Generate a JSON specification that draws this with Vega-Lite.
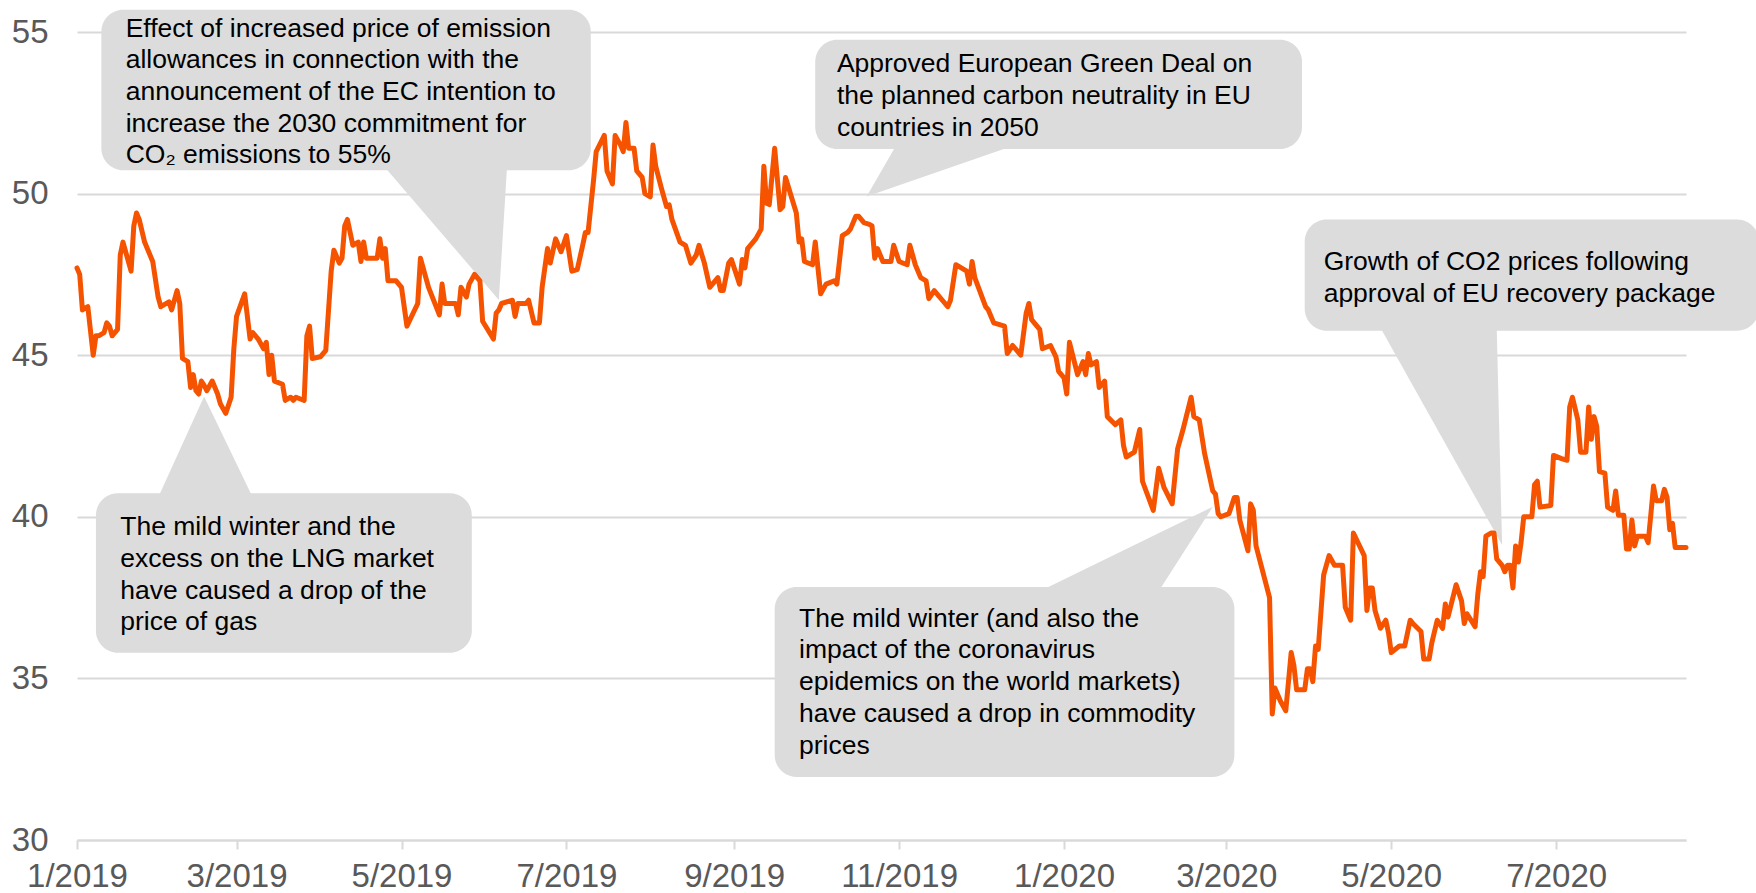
{
  "$schema": "https://vega.github.io/schema/vega-lite/v6.json",
  "autosize": {"type": "none"},
  "padding": {"left": 77, "top": 32, "right": 70, "bottom": 53},
  "width": 1609,
  "height": 808,
  "background": "white",
  "config": {"view": {"stroke": null}, "font": "Liberation Sans"},
  "datasets": {
    "prices": [
      {"d":"2019-01-01","v":47.7},{"d":"2019-01-02","v":47.5},{"d":"2019-01-03","v":46.4},{"d":"2019-01-05","v":46.5},{"d":"2019-01-07","v":45.0},{"d":"2019-01-08","v":45.6},{"d":"2019-01-09","v":45.6},{"d":"2019-01-11","v":45.7},{"d":"2019-01-12","v":46.0},{"d":"2019-01-13","v":45.9},{"d":"2019-01-14","v":45.6},{"d":"2019-01-16","v":45.8},{"d":"2019-01-17","v":48.1},{"d":"2019-01-18","v":48.5},{"d":"2019-01-21","v":47.6},{"d":"2019-01-22","v":49.0},{"d":"2019-01-23","v":49.4},{"d":"2019-01-24","v":49.2},{"d":"2019-01-26","v":48.5},{"d":"2019-01-29","v":47.9},{"d":"2019-01-31","v":46.8},
      {"d":"2019-02-01","v":46.5},{"d":"2019-02-04","v":46.65},{"d":"2019-02-05","v":46.4},{"d":"2019-02-07","v":47.0},{"d":"2019-02-08","v":46.6},{"d":"2019-02-09","v":44.9},{"d":"2019-02-11","v":44.8},{"d":"2019-02-12","v":44.0},{"d":"2019-02-13","v":44.4},{"d":"2019-02-14","v":43.9},{"d":"2019-02-15","v":43.8},{"d":"2019-02-16","v":44.2},{"d":"2019-02-17","v":44.07},{"d":"2019-02-18","v":43.9},{"d":"2019-02-20","v":44.2},{"d":"2019-02-22","v":43.8},{"d":"2019-02-23","v":43.5},{"d":"2019-02-25","v":43.2},{"d":"2019-02-27","v":43.7},{"d":"2019-02-28","v":45.2},
      {"d":"2019-03-01","v":46.2},{"d":"2019-03-04","v":46.9},{"d":"2019-03-06","v":45.5},{"d":"2019-03-07","v":45.7},{"d":"2019-03-09","v":45.5},{"d":"2019-03-11","v":45.2},{"d":"2019-03-12","v":45.4},{"d":"2019-03-13","v":44.4},{"d":"2019-03-14","v":45.0},{"d":"2019-03-15","v":44.2},{"d":"2019-03-18","v":44.1},{"d":"2019-03-19","v":43.6},{"d":"2019-03-21","v":43.7},{"d":"2019-03-22","v":43.6},{"d":"2019-03-23","v":43.7},{"d":"2019-03-26","v":43.6},{"d":"2019-03-27","v":45.6},{"d":"2019-03-28","v":45.9},{"d":"2019-03-29","v":44.9},
      {"d":"2019-04-01","v":44.95},{"d":"2019-04-03","v":45.15},{"d":"2019-04-05","v":47.6},{"d":"2019-04-06","v":48.25},{"d":"2019-04-08","v":47.85},{"d":"2019-04-09","v":48.0},{"d":"2019-04-10","v":49.0},{"d":"2019-04-11","v":49.2},{"d":"2019-04-13","v":48.4},{"d":"2019-04-15","v":48.5},{"d":"2019-04-16","v":47.9},{"d":"2019-04-17","v":48.5},{"d":"2019-04-18","v":48.0},{"d":"2019-04-22","v":48.0},{"d":"2019-04-23","v":48.6},{"d":"2019-04-24","v":48.0},{"d":"2019-04-25","v":48.3},{"d":"2019-04-26","v":47.3},{"d":"2019-04-29","v":47.3},
      {"d":"2019-05-01","v":47.1},{"d":"2019-05-03","v":45.9},{"d":"2019-05-07","v":46.6},{"d":"2019-05-08","v":48.0},{"d":"2019-05-11","v":47.1},{"d":"2019-05-15","v":46.25},{"d":"2019-05-16","v":47.2},{"d":"2019-05-17","v":46.6},{"d":"2019-05-21","v":46.6},{"d":"2019-05-22","v":46.25},{"d":"2019-05-23","v":47.1},{"d":"2019-05-25","v":46.8},{"d":"2019-05-26","v":47.2},{"d":"2019-05-28","v":47.5},{"d":"2019-05-30","v":47.3},{"d":"2019-05-31","v":46.05},
      {"d":"2019-06-04","v":45.5},{"d":"2019-06-05","v":46.3},{"d":"2019-06-06","v":46.4},{"d":"2019-06-07","v":46.6},{"d":"2019-06-11","v":46.7},{"d":"2019-06-12","v":46.2},{"d":"2019-06-13","v":46.6},{"d":"2019-06-16","v":46.6},{"d":"2019-06-17","v":46.7},{"d":"2019-06-19","v":46.0},{"d":"2019-06-21","v":46.0},{"d":"2019-06-22","v":47.1},{"d":"2019-06-24","v":48.3},{"d":"2019-06-25","v":47.85},{"d":"2019-06-27","v":48.6},{"d":"2019-06-29","v":48.2},
      {"d":"2019-07-01","v":48.7},{"d":"2019-07-03","v":47.6},{"d":"2019-07-05","v":47.65},{"d":"2019-07-07","v":48.4},{"d":"2019-07-08","v":48.8},{"d":"2019-07-09","v":48.8},{"d":"2019-07-11","v":50.4},{"d":"2019-07-12","v":51.3},{"d":"2019-07-15","v":51.8},{"d":"2019-07-16","v":50.7},{"d":"2019-07-18","v":50.3},{"d":"2019-07-19","v":51.8},{"d":"2019-07-21","v":51.5},{"d":"2019-07-22","v":51.3},{"d":"2019-07-23","v":52.2},{"d":"2019-07-24","v":51.4},{"d":"2019-07-26","v":51.4},{"d":"2019-07-27","v":50.7},{"d":"2019-07-29","v":50.5},{"d":"2019-07-30","v":50.0},
      {"d":"2019-08-01","v":49.9},{"d":"2019-08-02","v":51.5},{"d":"2019-08-03","v":50.85},{"d":"2019-08-05","v":50.2},{"d":"2019-08-07","v":49.6},{"d":"2019-08-08","v":49.65},{"d":"2019-08-09","v":49.2},{"d":"2019-08-12","v":48.5},{"d":"2019-08-14","v":48.4},{"d":"2019-08-16","v":47.85},{"d":"2019-08-18","v":48.1},{"d":"2019-08-19","v":48.4},{"d":"2019-08-21","v":47.85},{"d":"2019-08-23","v":47.1},{"d":"2019-08-26","v":47.4},{"d":"2019-08-27","v":47.0},{"d":"2019-08-28","v":47.0},{"d":"2019-08-30","v":47.85},{"d":"2019-08-31","v":47.96},
      {"d":"2019-09-03","v":47.2},{"d":"2019-09-04","v":47.96},{"d":"2019-09-05","v":47.7},{"d":"2019-09-06","v":48.3},{"d":"2019-09-09","v":48.6},{"d":"2019-09-11","v":48.9},{"d":"2019-09-12","v":50.85},{"d":"2019-09-13","v":49.7},{"d":"2019-09-14","v":49.66},{"d":"2019-09-16","v":51.4},{"d":"2019-09-18","v":49.5},{"d":"2019-09-19","v":49.6},{"d":"2019-09-20","v":50.5},{"d":"2019-09-24","v":49.4},{"d":"2019-09-25","v":48.5},{"d":"2019-09-26","v":48.6},{"d":"2019-09-27","v":47.9},{"d":"2019-09-30","v":47.8},
      {"d":"2019-10-01","v":48.5},{"d":"2019-10-03","v":46.9},{"d":"2019-10-05","v":47.2},{"d":"2019-10-08","v":47.3},{"d":"2019-10-09","v":47.2},{"d":"2019-10-11","v":48.7},{"d":"2019-10-13","v":48.8},{"d":"2019-10-14","v":48.9},{"d":"2019-10-16","v":49.3},{"d":"2019-10-17","v":49.3},{"d":"2019-10-19","v":49.1},{"d":"2019-10-21","v":49.05},{"d":"2019-10-22","v":49.0},{"d":"2019-10-23","v":48.0},{"d":"2019-10-24","v":48.3},{"d":"2019-10-26","v":47.9},{"d":"2019-10-29","v":47.9},{"d":"2019-10-30","v":48.4},
      {"d":"2019-11-01","v":47.9},{"d":"2019-11-04","v":47.8},{"d":"2019-11-05","v":48.4},{"d":"2019-11-07","v":47.8},{"d":"2019-11-09","v":47.4},{"d":"2019-11-11","v":47.3},{"d":"2019-11-12","v":46.75},{"d":"2019-11-14","v":47.0},{"d":"2019-11-17","v":46.7},{"d":"2019-11-19","v":46.5},{"d":"2019-11-20","v":46.7},{"d":"2019-11-22","v":47.8},{"d":"2019-11-26","v":47.6},{"d":"2019-11-27","v":47.2},{"d":"2019-11-28","v":47.9},{"d":"2019-11-29","v":47.4},
      {"d":"2019-12-03","v":46.5},{"d":"2019-12-04","v":46.4},{"d":"2019-12-06","v":46.0},{"d":"2019-12-10","v":45.9},{"d":"2019-12-11","v":45.05},{"d":"2019-12-13","v":45.3},{"d":"2019-12-16","v":45.0},{"d":"2019-12-18","v":46.3},{"d":"2019-12-19","v":46.6},{"d":"2019-12-20","v":46.1},{"d":"2019-12-23","v":45.8},{"d":"2019-12-24","v":45.2},{"d":"2019-12-27","v":45.3},{"d":"2019-12-29","v":44.95},{"d":"2019-12-30","v":44.5},
      {"d":"2020-01-01","v":44.3},{"d":"2020-01-02","v":43.8},{"d":"2020-01-03","v":45.4},{"d":"2020-01-06","v":44.4},{"d":"2020-01-08","v":44.8},{"d":"2020-01-09","v":44.4},{"d":"2020-01-10","v":45.05},{"d":"2020-01-11","v":44.7},{"d":"2020-01-13","v":44.8},{"d":"2020-01-14","v":44.0},{"d":"2020-01-16","v":44.2},{"d":"2020-01-17","v":43.1},{"d":"2020-01-20","v":42.85},{"d":"2020-01-22","v":43.0},{"d":"2020-01-23","v":42.2},{"d":"2020-01-24","v":41.85},{"d":"2020-01-27","v":42.0},{"d":"2020-01-29","v":42.7},{"d":"2020-01-30","v":41.1},
      {"d":"2020-02-03","v":40.2},{"d":"2020-02-05","v":41.5},{"d":"2020-02-07","v":40.9},{"d":"2020-02-10","v":40.4},{"d":"2020-02-12","v":42.1},{"d":"2020-02-14","v":42.7},{"d":"2020-02-17","v":43.7},{"d":"2020-02-18","v":43.1},{"d":"2020-02-20","v":43.0},{"d":"2020-02-22","v":41.95},{"d":"2020-02-25","v":40.8},{"d":"2020-02-26","v":40.7},{"d":"2020-02-27","v":40.1},{"d":"2020-02-28","v":40.0},
      {"d":"2020-03-02","v":40.1},{"d":"2020-03-04","v":40.6},{"d":"2020-03-05","v":40.6},{"d":"2020-03-06","v":39.9},{"d":"2020-03-09","v":38.95},{"d":"2020-03-10","v":40.4},{"d":"2020-03-11","v":40.2},{"d":"2020-03-12","v":39.1},{"d":"2020-03-17","v":37.5},{"d":"2020-03-18","v":33.9},{"d":"2020-03-19","v":34.7},{"d":"2020-03-21","v":34.3},{"d":"2020-03-23","v":34.0},{"d":"2020-03-25","v":35.8},{"d":"2020-03-26","v":35.4},{"d":"2020-03-27","v":34.65},{"d":"2020-03-30","v":34.65},{"d":"2020-03-31","v":35.3},
      {"d":"2020-04-01","v":35.3},{"d":"2020-04-02","v":34.9},{"d":"2020-04-03","v":36.0},{"d":"2020-04-04","v":35.9},{"d":"2020-04-06","v":38.2},{"d":"2020-04-08","v":38.8},{"d":"2020-04-10","v":38.5},{"d":"2020-04-13","v":38.5},{"d":"2020-04-14","v":37.2},{"d":"2020-04-16","v":36.8},{"d":"2020-04-17","v":39.5},{"d":"2020-04-21","v":38.8},{"d":"2020-04-22","v":37.1},{"d":"2020-04-23","v":37.8},{"d":"2020-04-24","v":37.8},{"d":"2020-04-25","v":37.1},{"d":"2020-04-27","v":36.55},{"d":"2020-04-29","v":36.8},{"d":"2020-04-30","v":36.4},
      {"d":"2020-05-01","v":35.8},{"d":"2020-05-04","v":36.0},{"d":"2020-05-06","v":36.0},{"d":"2020-05-08","v":36.8},{"d":"2020-05-09","v":36.7},{"d":"2020-05-12","v":36.45},{"d":"2020-05-13","v":35.6},{"d":"2020-05-15","v":35.6},{"d":"2020-05-16","v":36.1},{"d":"2020-05-18","v":36.8},{"d":"2020-05-20","v":36.55},{"d":"2020-05-21","v":37.3},{"d":"2020-05-22","v":36.9},{"d":"2020-05-25","v":37.9},{"d":"2020-05-27","v":37.4},{"d":"2020-05-28","v":36.7},{"d":"2020-05-29","v":37.0},
      {"d":"2020-06-01","v":36.6},{"d":"2020-06-02","v":37.6},{"d":"2020-06-03","v":38.3},{"d":"2020-06-04","v":38.15},{"d":"2020-06-05","v":39.4},{"d":"2020-06-07","v":39.5},{"d":"2020-06-08","v":39.5},{"d":"2020-06-09","v":38.7},{"d":"2020-06-11","v":38.5},{"d":"2020-06-12","v":38.3},{"d":"2020-06-13","v":38.5},{"d":"2020-06-14","v":38.5},{"d":"2020-06-15","v":37.8},{"d":"2020-06-16","v":39.1},{"d":"2020-06-17","v":38.6},{"d":"2020-06-18","v":39.2},{"d":"2020-06-19","v":40.0},{"d":"2020-06-22","v":40.0},{"d":"2020-06-23","v":41.0},{"d":"2020-06-24","v":41.1},{"d":"2020-06-25","v":40.3},{"d":"2020-06-29","v":40.35},{"d":"2020-06-30","v":41.9},
      {"d":"2020-07-03","v":41.8},{"d":"2020-07-05","v":41.75},{"d":"2020-07-06","v":43.4},{"d":"2020-07-07","v":43.7},{"d":"2020-07-09","v":43.0},{"d":"2020-07-10","v":42.0},{"d":"2020-07-12","v":42.0},{"d":"2020-07-13","v":43.4},{"d":"2020-07-14","v":42.4},{"d":"2020-07-15","v":43.1},{"d":"2020-07-16","v":42.8},{"d":"2020-07-17","v":41.4},{"d":"2020-07-19","v":41.35},{"d":"2020-07-20","v":40.3},{"d":"2020-07-22","v":40.2},{"d":"2020-07-23","v":40.8},{"d":"2020-07-24","v":40.05},{"d":"2020-07-26","v":40.05},{"d":"2020-07-27","v":39.0},{"d":"2020-07-28","v":39.0},{"d":"2020-07-29","v":39.9},{"d":"2020-07-30","v":39.1},{"d":"2020-07-31","v":39.4},
      {"d":"2020-08-03","v":39.4},{"d":"2020-08-04","v":39.2},{"d":"2020-08-06","v":40.95},{"d":"2020-08-07","v":40.5},{"d":"2020-08-09","v":40.5},{"d":"2020-08-10","v":40.85},{"d":"2020-08-11","v":40.6},{"d":"2020-08-12","v":39.6},{"d":"2020-08-13","v":39.8},{"d":"2020-08-14","v":39.05},{"d":"2020-08-18","v":39.05}
    ],
    "boxes": [
      {"id":1,"x1":"2019-01-10","x2":"2019-07-10","y1":55.69,"y2":50.72},
      {"id":2,"x1":"2019-10-01","x2":"2020-03-29","y1":54.76,"y2":51.38},
      {"id":3,"x1":"2019-01-08","x2":"2019-05-27","y1":40.73,"y2":35.79},
      {"id":4,"x1":"2019-09-16","x2":"2020-03-04","y1":37.83,"y2":31.95},
      {"id":5,"x1":"2020-03-30","x2":"2020-09-14","y1":49.2,"y2":45.76}
    ],
    "pointers": [
      {"id":1,"y":50.8,"xa":"2019-04-25","xb":"2019-06-09"},
      {"id":1,"y":46.71,"xa":"2019-06-06","xb":"2019-06-06"},
      {"id":2,"y":51.5,"xa":"2019-10-31","xb":"2019-12-14"},
      {"id":2,"y":49.91,"xa":"2019-10-20","xb":"2019-10-20"},
      {"id":3,"y":40.6,"xa":"2019-01-31","xb":"2019-03-07"},
      {"id":3,"y":43.72,"xa":"2019-02-17","xb":"2019-02-17"},
      {"id":4,"y":37.7,"xa":"2019-12-23","xb":"2020-02-05"},
      {"id":4,"y":40.31,"xa":"2020-02-25","xb":"2020-02-25"},
      {"id":5,"y":45.85,"xa":"2020-04-27","xb":"2020-06-09"},
      {"id":5,"y":39.13,"xa":"2020-06-11","xb":"2020-06-11"}
    ],
    "notes": [
      {"x":"2019-01-19","y":54.86,"t":"Effect of increased price of emission"},
      {"x":"2019-01-19","y":53.88,"t":"allowances in connection with the"},
      {"x":"2019-01-19","y":52.90,"t":"announcement of the EC intention to"},
      {"x":"2019-01-19","y":51.92,"t":"increase the 2030 commitment for"},
      {"x":"2019-01-19","y":50.94,"t":"CO₂ emissions to 55%"},
      {"x":"2019-10-09","y":53.75,"t":"Approved European Green Deal on"},
      {"x":"2019-10-09","y":52.77,"t":"the planned carbon neutrality in EU"},
      {"x":"2019-10-09","y":51.79,"t":"countries in 2050"},
      {"x":"2019-01-17","y":39.44,"t":"The mild winter and the"},
      {"x":"2019-01-17","y":38.45,"t":"excess on the LNG market"},
      {"x":"2019-01-17","y":37.47,"t":"have caused a drop of the"},
      {"x":"2019-01-17","y":36.49,"t":"price of gas"},
      {"x":"2019-09-25","y":36.60,"t":"The mild winter (and also the"},
      {"x":"2019-09-25","y":35.62,"t":"impact of the coronavirus"},
      {"x":"2019-09-25","y":34.63,"t":"epidemics on the world markets)"},
      {"x":"2019-09-25","y":33.65,"t":"have caused a drop in commodity"},
      {"x":"2019-09-25","y":32.67,"t":"prices"},
      {"x":"2020-04-06","y":47.64,"t":"Growth of CO2 prices following"},
      {"x":"2020-04-06","y":46.66,"t":"approval of EU recovery package"}
    ]
  },
  "layer": [
    {
      "data": {"name": "boxes"},
      "mark": {"type": "rect", "fill": "#dcdcdc", "cornerRadius": 22},
      "encoding": {
        "x": {"field": "x1", "type": "temporal", "title": null},
        "x2": {"field": "x2"},
        "y": {"field": "y1", "type": "quantitative", "title": null},
        "y2": {"field": "y2"}
      }
    },
    {
      "data": {"name": "pointers"},
      "transform": [{"filter": "datum.id == 1"}],
      "mark": {"type": "area", "orient": "horizontal", "fill": "#dcdcdc"},
      "encoding": {
        "y": {"field": "y", "type": "quantitative", "title": null},
        "x": {"field": "xa", "type": "temporal", "title": null},
        "x2": {"field": "xb"}
      }
    },
    {
      "data": {"name": "pointers"},
      "transform": [{"filter": "datum.id == 2"}],
      "mark": {"type": "area", "orient": "horizontal", "fill": "#dcdcdc"},
      "encoding": {
        "y": {"field": "y", "type": "quantitative", "title": null},
        "x": {"field": "xa", "type": "temporal", "title": null},
        "x2": {"field": "xb"}
      }
    },
    {
      "data": {"name": "pointers"},
      "transform": [{"filter": "datum.id == 3"}],
      "mark": {"type": "area", "orient": "horizontal", "fill": "#dcdcdc"},
      "encoding": {
        "y": {"field": "y", "type": "quantitative", "title": null},
        "x": {"field": "xa", "type": "temporal", "title": null},
        "x2": {"field": "xb"}
      }
    },
    {
      "data": {"name": "pointers"},
      "transform": [{"filter": "datum.id == 4"}],
      "mark": {"type": "area", "orient": "horizontal", "fill": "#dcdcdc"},
      "encoding": {
        "y": {"field": "y", "type": "quantitative", "title": null},
        "x": {"field": "xa", "type": "temporal", "title": null},
        "x2": {"field": "xb"}
      }
    },
    {
      "data": {"name": "pointers"},
      "transform": [{"filter": "datum.id == 5"}],
      "mark": {"type": "area", "orient": "horizontal", "fill": "#dcdcdc"},
      "encoding": {
        "y": {"field": "y", "type": "quantitative", "title": null},
        "x": {"field": "xa", "type": "temporal", "title": null},
        "x2": {"field": "xb"}
      }
    },
    {
      "data": {"name": "notes"},
      "mark": {"type": "text", "align": "left", "baseline": "alphabetic", "fontSize": 26.5, "font": "Liberation Sans", "color": "#000000"},
      "encoding": {
        "x": {"field": "x", "type": "temporal", "title": null},
        "y": {"field": "y", "type": "quantitative", "title": null},
        "text": {"field": "t", "type": "nominal"}
      }
    },
    {
      "data": {"name": "prices"},
      "mark": {"type": "line", "color": "#f55300", "strokeWidth": 5, "strokeJoin": "round", "strokeCap": "round"},
      "encoding": {
        "x": {
          "field": "d", "type": "temporal", "title": null,
          "scale": {"type": "utc", "domain": [{"year": 2019, "month": 1, "date": 1, "utc": true}, {"year": 2020, "month": 8, "date": 18, "utc": true}]},
          "axis": {
            "format": "%-m/%Y", "tickCount": {"interval": "month", "step": 2},
            "grid": false, "domainColor": "#d9d9d9", "domainWidth": 2,
            "tickColor": "#d9d9d9", "tickWidth": 2, "tickSize": 9,
            "labelFont": "Liberation Sans", "labelFontSize": 33, "labelColor": "#595959",
            "labelPadding": 11, "labelFlush": false, "labelOverlap": false
          }
        },
        "y": {
          "field": "v", "type": "quantitative", "title": null,
          "scale": {"domain": [30, 55], "nice": false, "zero": false},
          "axis": {
            "values": [30, 35, 40, 45, 50, 55], "grid": true, "gridColor": "#d9d9d9", "gridWidth": 2,
            "domain": false, "ticks": false, "tickSize": 0,
            "labelFont": "Liberation Sans", "labelFontSize": 33, "labelColor": "#595959",
            "labelPadding": 29
          }
        }
      }
    }
  ]
}
